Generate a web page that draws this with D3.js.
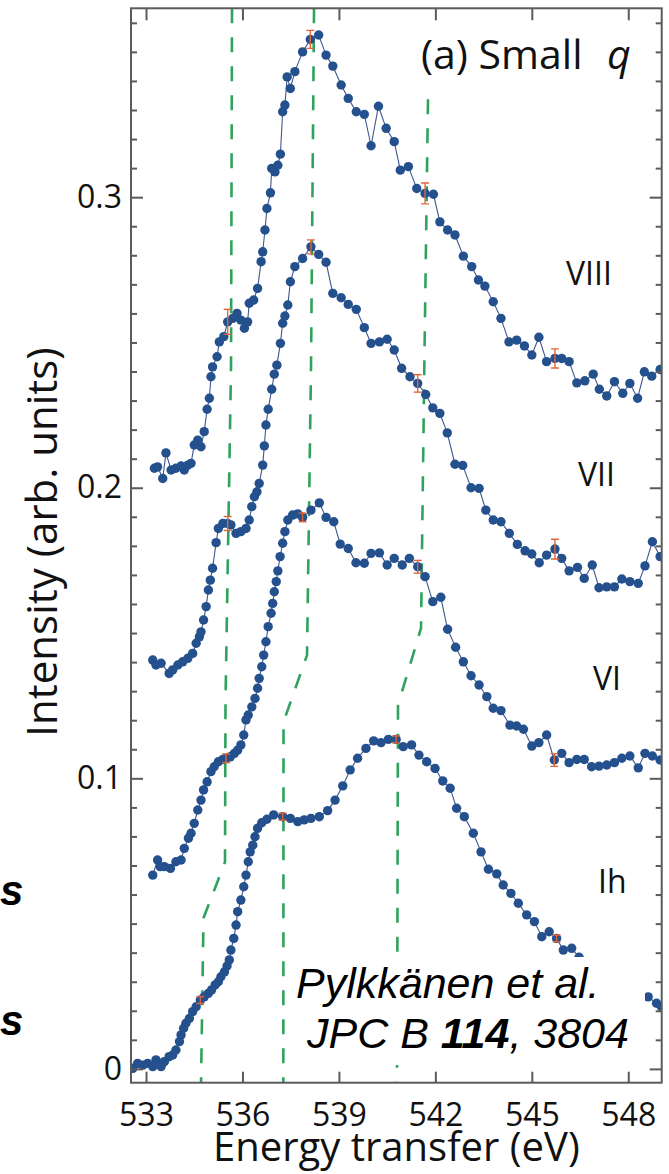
<!DOCTYPE html>
<html><head><meta charset="utf-8">
<script src="https://cdn.jsdelivr.net/npm/d3@7"></script>
<style>body{margin:0;background:#fff} svg{display:block}</style>
</head><body><svg id="c" width="669" height="1174"></svg>
<script>
// ---------- data ----------
const energyVIII=[533.26,533.36,533.52,533.62,533.78,533.93,534.09,534.19,534.30,534.40,534.50,534.61,534.71,534.81,534.90,534.97,535.02,535.07,535.21,535.28,535.42,535.54,535.70,535.83,535.95,536.06,536.16,536.21,536.35,536.47,536.58,536.63,536.70,536.76,536.87,536.91,537.01,537.10,537.18,537.25,537.32,537.39,537.49,537.63,537.87,538.11,538.37,538.60,538.81,539.07,539.29,539.54,539.79,540.00,540.23,540.47,540.72,540.91,541.16,541.42,541.68,541.94,542.14,542.38,542.61,542.87,543.13,543.34,543.54,543.80,544.04,544.29,544.53,544.77,545.00,545.22,545.46,545.72,545.93,546.16,546.40,546.65,546.91,547.10,547.33,547.57,547.83,548.05,548.29,548.50,548.73,548.99];
const intensityVIII=[0.2067,0.2072,0.2032,0.2120,0.2061,0.2067,0.2075,0.2061,0.2078,0.2084,0.2147,0.2164,0.2141,0.2193,0.2270,0.2308,0.2382,0.2416,0.2451,0.2502,0.2520,0.2571,0.2583,0.2600,0.2577,0.2549,0.2571,0.2635,0.2646,0.2686,0.2778,0.2812,0.2887,0.2961,0.3015,0.3099,0.3087,0.3110,0.3148,0.3294,0.3317,0.3414,0.3374,0.3432,0.3500,0.3543,0.3558,0.3489,0.3451,0.3386,0.3340,0.3294,0.3285,0.3177,0.3313,0.3237,0.3191,0.3093,0.3105,0.3030,0.3013,0.3010,0.2915,0.2887,0.2870,0.2797,0.2761,0.2715,0.2694,0.2640,0.2583,0.2502,0.2508,0.2488,0.2457,0.2518,0.2434,0.2445,0.2445,0.2434,0.2361,0.2368,0.2391,0.2339,0.2316,0.2365,0.2325,0.2359,0.2308,0.2399,0.2384,0.2407];

const energyVII=[533.21,533.31,533.47,533.72,533.83,533.99,534.14,534.30,534.45,534.56,534.66,534.71,534.79,534.87,534.94,535.00,535.07,535.18,535.25,535.39,535.54,535.64,535.80,535.95,536.11,536.21,536.29,536.37,536.45,536.52,536.63,536.68,536.73,536.80,536.91,536.99,537.07,537.18,537.25,537.32,537.41,537.49,537.63,537.87,538.13,538.37,538.60,538.81,539.07,539.29,539.54,539.79,540.00,540.26,540.50,540.72,540.95,541.21,541.45,541.70,541.92,542.14,542.37,542.61,542.85,543.11,543.36,543.57,543.80,544.04,544.30,544.55,544.79,545.00,545.23,545.46,545.72,545.93,546.16,546.42,546.63,546.88,547.09,547.33,547.57,547.80,548.05,548.31,548.52,548.75,548.99];
const intensityVII=[0.1407,0.1390,0.1396,0.1361,0.1373,0.1390,0.1401,0.1413,0.1430,0.1465,0.1487,0.1504,0.1545,0.1591,0.1648,0.1682,0.1723,0.1811,0.1860,0.1877,0.1877,0.1872,0.1843,0.1849,0.1860,0.1889,0.1935,0.1969,0.1986,0.2015,0.2078,0.2144,0.2216,0.2270,0.2339,0.2391,0.2422,0.2497,0.2566,0.2591,0.2629,0.2709,0.2761,0.2789,0.2829,0.2803,0.2776,0.2669,0.2654,0.2631,0.2614,0.2551,0.2497,0.2502,0.2511,0.2474,0.2411,0.2382,0.2359,0.2321,0.2275,0.2256,0.2189,0.2081,0.2077,0.2000,0.1998,0.1923,0.1889,0.1883,0.1843,0.1805,0.1783,0.1772,0.1742,0.1768,0.1789,0.1757,0.1714,0.1726,0.1688,0.1734,0.1656,0.1659,0.1659,0.1686,0.1677,0.1671,0.1731,0.1814,0.1763];

const energyVI=[533.21,533.36,533.44,533.57,533.76,533.93,534.09,534.19,534.32,534.40,534.50,534.61,534.71,534.79,534.90,535.02,535.12,535.25,535.39,535.49,535.62,535.75,535.85,535.95,536.04,536.11,536.18,536.29,536.39,536.47,536.52,536.60,536.66,536.73,536.80,536.89,536.94,536.99,537.05,537.10,537.17,537.25,537.32,537.41,537.56,537.72,537.87,538.13,538.39,538.60,538.84,539.04,539.29,539.53,539.79,540.00,540.26,540.50,540.72,540.97,541.19,541.45,541.68,541.92,542.17,542.38,542.63,542.87,543.11,543.36,543.60,543.80,544.04,544.32,544.53,544.74,545.00,545.22,545.46,545.70,545.93,546.16,546.40,546.63,546.86,547.09,547.33,547.57,547.80,548.05,548.31,548.52,548.75,548.99];
const intensityVI=[0.0667,0.0719,0.0696,0.0696,0.0690,0.0713,0.0719,0.0759,0.0794,0.0811,0.0845,0.0891,0.0925,0.0960,0.0988,0.1023,0.1040,0.1057,0.1065,0.1069,0.1074,0.1086,0.1097,0.1115,0.1149,0.1201,0.1218,0.1246,0.1275,0.1310,0.1344,0.1384,0.1424,0.1470,0.1522,0.1568,0.1602,0.1642,0.1677,0.1714,0.1763,0.1809,0.1849,0.1889,0.1906,0.1910,0.1898,0.1923,0.1948,0.1898,0.1883,0.1806,0.1791,0.1742,0.1740,0.1774,0.1776,0.1734,0.1757,0.1734,0.1757,0.1728,0.1694,0.1608,0.1623,0.1513,0.1451,0.1401,0.1353,0.1321,0.1281,0.1241,0.1233,0.1183,0.1180,0.1169,0.1111,0.1123,0.1149,0.1063,0.1086,0.1054,0.1065,0.1065,0.1040,0.1042,0.1046,0.1054,0.1069,0.1077,0.1036,0.1086,0.1077,0.1063];

const energyIh=[532.59,532.74,532.90,533.05,533.21,533.31,533.47,533.57,533.72,533.83,533.93,534.04,534.09,534.17,534.24,534.35,534.45,534.56,534.69,534.81,534.94,535.04,535.15,535.25,535.33,535.44,535.52,535.59,535.64,535.73,535.80,535.85,535.95,536.04,536.11,536.18,536.24,536.32,536.39,536.47,536.60,536.76,536.97,537.25,537.49,537.72,537.92,538.13,538.39,538.65,538.88,539.12,539.35,539.58,539.84,540.08,540.31,540.54,540.78,541.00,541.26,541.49,541.73,541.99,542.23,542.46,542.66,542.90,543.18,543.42,543.65,543.91,544.11,544.35,544.58,544.84,545.08,545.31,545.54,545.77,545.98,546.24,546.47,548.62,548.88,549.03];
const intensityIh=[0.0002,0.0019,0.0013,0.0019,0.0008,0.0031,0.0008,0.0025,0.0042,0.0048,0.0065,0.0094,0.0117,0.0140,0.0157,0.0174,0.0197,0.0214,0.0237,0.0248,0.0260,0.0272,0.0289,0.0300,0.0317,0.0334,0.0354,0.0375,0.0409,0.0449,0.0495,0.0541,0.0581,0.0627,0.0667,0.0713,0.0747,0.0770,0.0799,0.0828,0.0847,0.0859,0.0874,0.0868,0.0862,0.0851,0.0857,0.0862,0.0868,0.0889,0.0925,0.0974,0.1029,0.1069,0.1103,0.1129,0.1123,0.1134,0.1134,0.1109,0.1115,0.1080,0.1057,0.1034,0.0991,0.0966,0.0897,0.0868,0.0811,0.0747,0.0687,0.0671,0.0633,0.0604,0.0570,0.0530,0.0507,0.0455,0.0472,0.0449,0.0409,0.0415,0.0384,0.0248,0.0226,0.0214];

// error bars: [energy, intensity, half-height]
const errorsVIII=[[535.54,0.2571,0.0043],[538.11,0.3543,0.0031],[541.68,0.3013,0.0036],[545.72,0.2445,0.0033]];
const errorsVII=[[535.54,0.1877,0.0024],[538.13,0.2829,0.0024],[541.45,0.2359,0.0030],[545.72,0.1789,0.0034]];
const errorsVI=[[535.49,0.1069,0.0015],[537.87,0.1898,0.0015],[541.45,0.1728,0.0022],[545.70,0.1063,0.0022]];
const errorsIh=[[534.69,0.0237,0.0012],[537.25,0.0868,0.0012],[540.78,0.1134,0.0012],[545.77,0.0449,0.0012]];

// dashed guide lines: [energy, intensity]
const guide1=[[535.675,0.365],[535.644,0.2415],[535.473,0.1269],[535.457,0.0712],[534.788,0.0519],[534.711,-0.005]];
const guide2=[[538.226,0.365],[538.132,0.2415],[538.008,0.1424],[537.277,0.1194],[537.271,-0.005]];
const guide3=[[541.771,0.3337],[541.656,0.2415],[541.554,0.1517],[540.838,0.1252],[540.807,-0.005]];

const xTicks=[533,536,539,542,545,548];
const yTicks=[0,0.1,0.2,0.3];
const yTickLabels=["0","0.1","0.2","0.3"];
const seriesNames=["VIII","VII","VI","Ih"];

// ---------- layout ----------
const L=131,R=661.7,T=8.3,B=1082.7;
const FONT="'Open Sans', 'Noto Sans', sans-serif";
const svg=d3.select("#c");
const x=d3.scaleLinear().domain([532.533,549.04]).range([L,R]);
const y=d3.scaleLinear().domain([-0.00475,0.365]).range([B,T]);

svg.append("defs").append("clipPath").attr("id","plot")
  .append("rect").attr("x",L).attr("y",T).attr("width",R-L).attr("height",B-T);
const g=svg.append("g").attr("clip-path","url(#plot)");

// dashed guides
const gl=d3.line().x(d=>x(d[0])).y(d=>y(d[1]));
[guide1,guide2,guide3].forEach(gd=>{
  g.append("path").attr("d",gl(gd)).attr("fill","none")
   .attr("stroke","#2fa35e").attr("stroke-width",2.6).attr("stroke-dasharray","15,14");
});

// series
const series=[[energyVIII,intensityVIII,errorsVIII],[energyVII,intensityVII,errorsVII],[energyVI,intensityVI,errorsVI],[energyIh,intensityIh,errorsIh]];
const line=d3.line().x(d=>x(d[0])).y(d=>y(d[1]));
series.forEach(([es,is,errs])=>{
  const pts=es.map((e,i)=>[e,is[i]]);
  g.append("path").attr("d",line(pts)).attr("fill","none").attr("stroke","#3e5590").attr("stroke-width",1.1);
  g.append("g").selectAll("circle").data(pts).join("circle")
   .attr("cx",d=>x(d[0])).attr("cy",d=>y(d[1])).attr("r",4.7).attr("fill","#24518e");
  const eb=g.append("g").attr("stroke","#e0663a").attr("stroke-width",1.4);
  errs.forEach(([e,v,h])=>{
    const cx=x(e);
    eb.append("line").attr("x1",cx).attr("x2",cx).attr("y1",y(v-h)).attr("y2",y(v+h));
    eb.append("line").attr("x1",cx-4).attr("x2",cx+4).attr("y1",y(v-h)).attr("y2",y(v-h));
    eb.append("line").attr("x1",cx-4).attr("x2",cx+4).attr("y1",y(v+h)).attr("y2",y(v+h));
  });
});

// citation box
svg.append("rect").attr("x",294).attr("y",957).attr("width",351).attr("height",108).attr("fill","#fff");
const cit=svg.append("g").attr("font-family","'Liberation Sans', Arial, sans-serif").attr("font-style","italic").attr("font-size",43).attr("fill","#000");
cit.append("text").attr("x",296).attr("y",998).text("Pylkkänen et al.");
const c2=cit.append("text").attr("x",307).attr("y",1048);
c2.append("tspan").text("JPC B ");
c2.append("tspan").attr("font-weight","bold").text("114");
c2.append("tspan").text(", 3804");

// axes
const frameColor="#5b5b5b";
const minorY=d3.range(1,37).map(i=>i/100).filter(v=>Math.round(v*100)%10!==0);
function styleAxis(a){a.select(".domain").remove();a.selectAll(".tick line").attr("stroke",frameColor).attr("stroke-width",2);}
svg.append("g").attr("transform",`translate(0,${B})`)
  .call(d3.axisBottom(x).tickValues(xTicks).tickFormat(d3.format("d")).tickSize(-11).tickPadding(21))
  .call(styleAxis)
  .call(a=>a.selectAll("text").attr("font-family",FONT).attr("font-size",32).attr("fill","#111"));
svg.append("g").attr("transform",`translate(0,${T})`)
  .call(d3.axisTop(x).tickValues(xTicks).tickFormat("").tickSize(-12)).call(styleAxis);
svg.append("g").attr("transform",`translate(${L},0)`)
  .call(d3.axisLeft(y).tickValues(yTicks).tickFormat((d,i)=>yTickLabels[i]).tickSize(-12).tickPadding(9))
  .call(styleAxis)
  .call(a=>a.selectAll("text").attr("font-family",FONT).attr("font-size",32).attr("fill","#111"));
svg.append("g").attr("transform",`translate(${L},0)`)
  .call(d3.axisLeft(y).tickValues(minorY).tickFormat("").tickSize(-6)).call(styleAxis);
svg.append("g").attr("transform",`translate(${R},0)`)
  .call(d3.axisRight(y).tickValues(yTicks).tickFormat("").tickSize(-12)).call(styleAxis);
svg.append("g").attr("transform",`translate(${R},0)`)
  .call(d3.axisRight(y).tickValues(minorY).tickFormat("").tickSize(-6)).call(styleAxis);
svg.append("rect").attr("x",L).attr("y",T).attr("width",R-L).attr("height",B-T)
  .attr("fill","none").attr("stroke",frameColor).attr("stroke-width",2);

// axis titles
svg.append("text").attr("x",(L+R)/2).attr("y",1161).attr("text-anchor","middle")
  .attr("font-family",FONT).attr("font-size",40).attr("fill","#111").text("Energy transfer (eV)");
svg.append("text").attr("transform","translate(57,542) rotate(-90)").attr("text-anchor","middle")
  .attr("font-family",FONT).attr("font-size",42).attr("fill","#111").text("Intensity (arb. units)");

// panel title
svg.append("text").attr("x",421).attr("y",69).attr("font-family",FONT).attr("font-size",41).attr("fill","#111").text("(a) Small");
svg.append("text").attr("x",607).attr("y",69).attr("font-family",FONT).attr("font-size",41).attr("font-style","italic").attr("fill","#111").text("q");

// series labels
const labelPos=[[566,285],[578,486],[593,690],[598,893]];
seriesNames.forEach((s,i)=>{
  svg.append("text").attr("x",labelPos[i][0]).attr("y",labelPos[i][1]).attr("font-family",FONT)
   .attr("font-size",32).attr("fill","#111").text(s);
});

// text fragments at left edge
[905,1035].forEach(yy=>{
  svg.append("text").attr("x",0).attr("y",yy)
   .attr("font-family","'Liberation Sans', Arial, sans-serif").attr("font-weight","bold").attr("font-style","italic")
   .attr("font-size",42).attr("fill","#000").text("s");
});
</script></body></html>
